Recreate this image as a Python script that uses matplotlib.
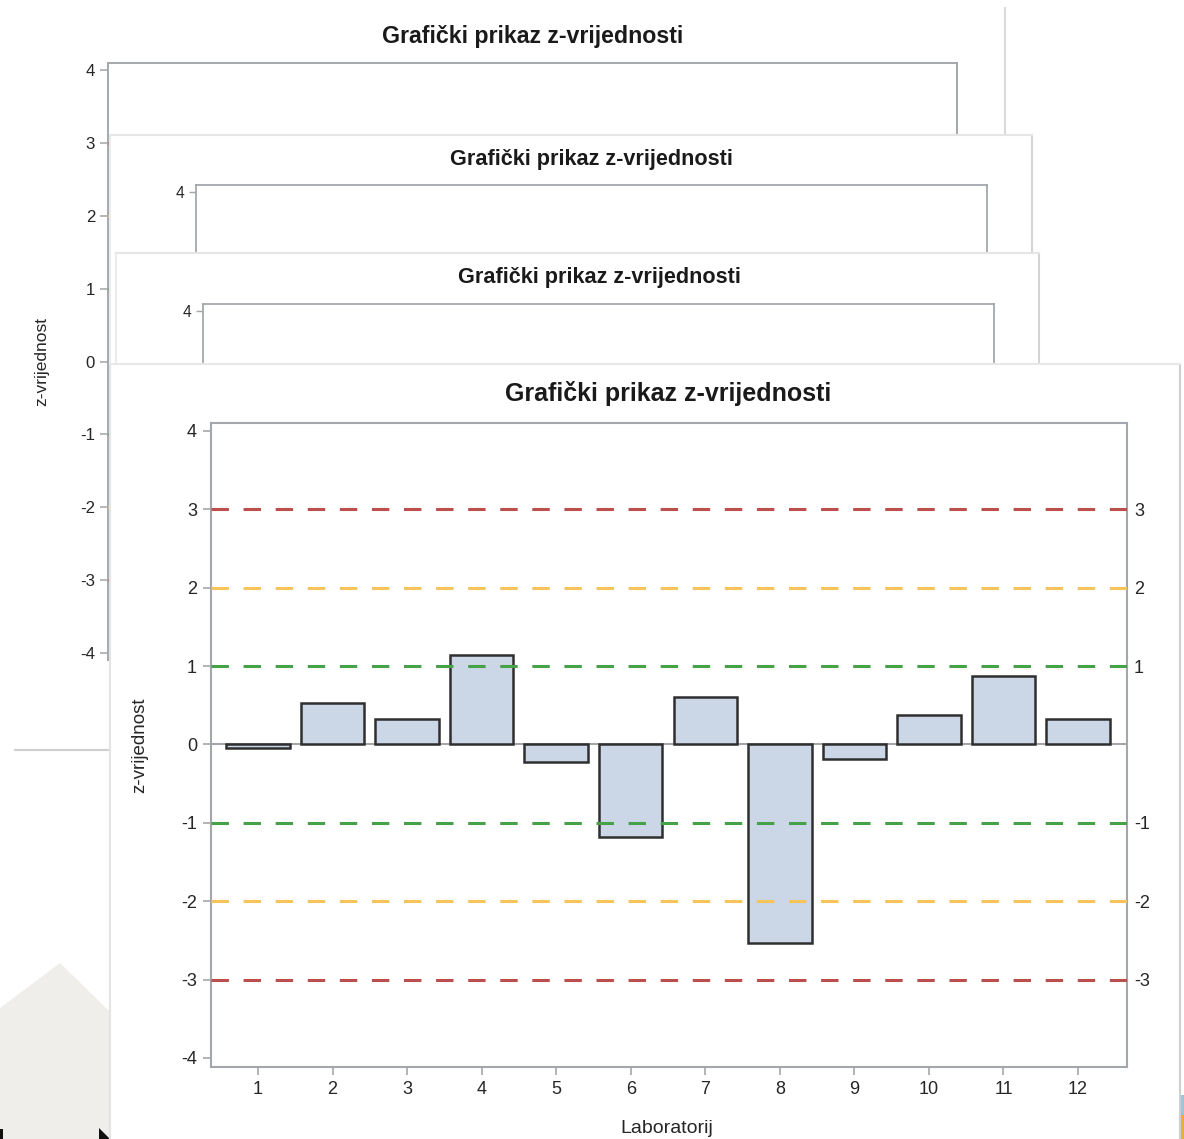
# z-score bar chart, drawn as a stack of overlapping screenshots
import matplotlib
matplotlib.use('Agg')
import matplotlib.pyplot as plt
from matplotlib.patches import Polygon, Rectangle

plt.rcParams['font.family'] = ['Liberation Sans', 'DejaVu Sans']
plt.rcParams['axes.unicode_minus'] = False

W, H = 1184, 1139

laboratorij = list(range(1, 13))
z_vrijednost = [-0.04, 0.53, 0.32, 1.14, -0.22, -1.18, 0.60, -2.53, -0.18, 0.38, 0.88, 0.32]
granice = [3, 2, 1, -1, -2, -3]
y_ticks = [4, 3, 2, 1, 0, -1, -2, -3, -4]
naslov = 'Grafički prikaz z-vrijednosti'
x_naziv = 'Laboratorij'
y_naziv = 'z-vrijednost'

boja_granice = {3: '#bc4f4b', 2: '#f7c35b', 1: '#46a148'}
siva = '#a3a7ab'


def box(x0, y0, x1, y1):
    # pixel box (y from top) -> figure rect
    return [x0 / W, 1 - y1 / H, (x1 - x0) / W, (y1 - y0) / H]


def fig_xy(x, y):
    return (x / W, 1 - y / H)


fig = plt.figure(figsize=(W / 100, H / 100), dpi=100)
fig.patch.set_facecolor('white')


def panel(rect, z, edges, title_xy, s):
    bg = fig.add_axes(box(*rect))
    bg.set_zorder(z)
    bg.set_xticks([])
    bg.set_yticks([])
    bg.set_facecolor('white')
    for name, sp in bg.spines.items():
        if name in edges:
            sp.set_color(edges[name])
            sp.set_linewidth(1.5)
        else:
            sp.set_visible(False)
    tx, ty = fig_xy(*title_xy)
    bg.text(tx, ty, naslov, transform=fig.transFigure, ha='center', va='center',
            fontsize=18 * s, fontweight='bold', color='#1a1a1a')
    return bg


def chart(rect, z, s, ylim, left_shown, right_shown, x_shown):
    # *_shown: which labels are not covered by the next screenshot
    ax = fig.add_axes(box(*rect))
    ax.set_zorder(z)
    ax.bar(laboratorij, z_vrijednost, width=0.85, color='#cbd6e6',
           edgecolor='#2f2f2f', linewidth=1.8 * s, zorder=3)
    ax.axhline(0, color=siva, lw=1.5 * s, zorder=2)
    for g in granice:
        ax.axhline(g, color=boja_granice[abs(g)], lw=2.2 * s,
                   ls=(0, (5.7, 4.8)), zorder=4)
    ax.set_xlim(0.37, 12.657)
    ax.set_ylim(*ylim)
    ax.set_xticks(laboratorij, labels=[str(v) if x_shown else '' for v in laboratorij])
    ax.set_yticks(y_ticks, labels=[str(v) if v in left_shown else '' for v in y_ticks])
    for sp in ax.spines.values():
        sp.set_color(siva)
        sp.set_linewidth(1.5 * s)
    ax.tick_params(length=6 * s, width=1.2 * s, color=siva, labelsize=13 * s,
                   labelcolor='#262626', pad=4 * s)
    if x_shown:
        ax.set_xlabel(x_naziv, fontsize=14 * s, color='#262626')
        ax.xaxis.set_label_coords(0.498, -0.083)
    if len(left_shown) > 3:
        ax.set_ylabel(y_naziv, fontsize=13.5 * s, color='#262626')
        ax.yaxis.set_label_coords(-0.0688, 0.5)

    # labels of the limit lines on the right side
    ax2 = ax.twinx()
    ax2.set_zorder(z)
    ax2.set_ylim(*ylim)
    ax2.set_yticks(granice, labels=[str(v) if v in right_shown else '' for v in granice])
    ax2.tick_params(length=0, labelsize=13 * s, labelcolor='#262626', pad=5 * s)
    for sp in ax2.spines.values():
        sp.set_visible(False)
    return ax


# background desktop bits
house = [fig_xy(0, 1008), fig_xy(60, 963), fig_xy(110, 1012), fig_xy(110, 1139), fig_xy(0, 1139)]
fig.add_artist(Polygon(house, closed=True, transform=fig.transFigure,
                       facecolor='#efeeea', edgecolor='none', zorder=1))
fig.add_artist(Polygon([fig_xy(99, 1128), fig_xy(110, 1139), fig_xy(99, 1139)], closed=True,
                       transform=fig.transFigure, facecolor='#111111', edgecolor='none', zorder=1))
fig.add_artist(Rectangle(fig_xy(0, 1139), 3 / W, 10 / H, transform=fig.transFigure,
                         facecolor='#111111', edgecolor='none', zorder=1))
fig.add_artist(Rectangle(fig_xy(1181, 1139), 3 / W, 44 / H, transform=fig.transFigure,
                         facecolor='#9ec3dc', edgecolor='none', zorder=1))
fig.add_artist(Rectangle(fig_xy(1181, 1139), 3 / W, 24 / H, transform=fig.transFigure,
                         facecolor='#f2a93b', edgecolor='none', zorder=1))

# screenshot 1 (back)
panel((15, 8, 1005, 750), 10, {'right': '#dadada', 'bottom': '#cfcfcf'}, (533, 37), 0.927)
chart((108, 63, 957, 660), 11, 0.927, (-4.096, 4.096), y_ticks, [], False)

# screenshot 2
panel((110, 135, 1032, 1139), 20, {'top': '#e6e6e6', 'right': '#d4d4d4', 'left': '#ececec'},
      (591, 160), 0.864)
chart((196, 185, 987, 741), 21, 0.864, (-4.115, 4.102), [4, 3], [3], False)

# screenshot 3
panel((116, 253, 1039, 1139), 30, {'top': '#e6e6e6', 'right': '#d4d4d4', 'left': '#ececec'},
      (599, 278), 0.864)
chart((203, 304, 994, 860), 31, 0.864, (-4.115, 4.102), [4], [], False)

# screenshot 4 (front)
panel((110, 364, 1180, 1150), 40, {'top': '#e8e8e8', 'right': '#cfcfcf', 'left': '#e4e4e4'},
      (668, 393), 1.0)
chart((211, 423, 1127, 1067), 41, 1.0, (-4.115, 4.102), y_ticks, granice, True)

plt.savefig('out.png', dpi=100)
